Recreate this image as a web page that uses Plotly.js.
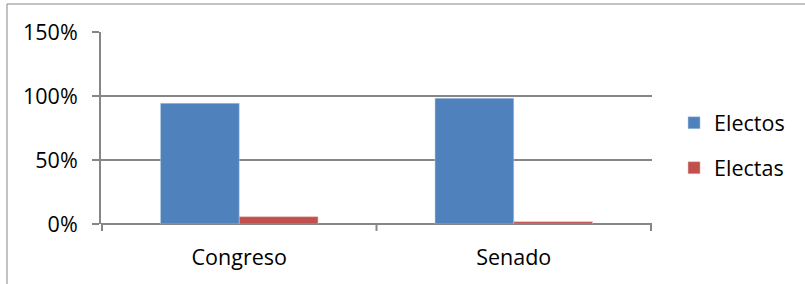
<!DOCTYPE html>
<html>
<head>
<meta charset="utf-8">
<script src="https://cdn.plot.ly/plotly-3.0.1.min.js"></script>
<style>html,body{margin:0;padding:0;background:#fff;}#chart{width:805px;height:284px;}</style>
</head>
<body>
<div id="chart"></div>
<script>
const categories = ["Congreso", "Senado"];
const electos = [0.943, 0.982];
const electas = [0.057, 0.018];
const yTicks = [0, 0.5, 1, 1.5];
const yTickLabels = ["0%", "50%", "100%", "150%"];

const FONT = "Open Sans, Liberation Sans, sans-serif";
const GRID = "#868686";
const FS = 21.5;

const traces = [
  {type: "bar", name: "Electos", x: categories, y: electos,
   marker: {color: "#4F81BD", line: {color: "#b9cde5", width: 0.5}}, legendgroup: "a"},
  {type: "bar", name: "Electas", x: categories, y: electas,
   marker: {color: "#C0504D", line: {color: "#e6b9b8", width: 0.5}}, legendgroup: "b"}
];

const layout = {
  width: 805, height: 284,
  margin: {l: 101, r: 153, t: 32, b: 60, pad: 0},
  paper_bgcolor: "#fff", plot_bgcolor: "#fff",
  font: {family: FONT, size: FS, color: "#000"},
  barmode: "group", bargap: 0.4265, bargroupgap: 0,
  showlegend: true,
  legend: {x: 1.04, y: 0.41, xanchor: "left", yanchor: "middle",
           traceorder: "grouped", tracegroupgap: 14,
           font: {family: FONT, size: FS, color: "#000"}},
  xaxis: {type: "category", showgrid: false, showline: false, zeroline: false,
          tickmode: "array", tickvals: categories, ticktext: categories,
          ticks: "", tickfont: {family: FONT, size: FS}, ticklabelstandoff: 18},
  yaxis: {range: [0, 1.5], tickmode: "array", tickvals: yTicks, ticktext: yTickLabels,
          showgrid: true, gridcolor: GRID, gridwidth: 2,
          showline: true, linecolor: GRID, linewidth: 2,
          ticks: "outside", ticklen: 7, tickcolor: GRID, tickwidth: 2,
          zeroline: true, zerolinecolor: GRID, zerolinewidth: 2,
          tickfont: {family: FONT, size: FS}, ticklabelstandoff: 10},
  shapes: [
    {type: "line", xref: "x", yref: "paper", x0: -0.5, x1: -0.5, y0: 0, y1: -0.036, line: {color: GRID, width: 2}},
    {type: "line", xref: "x", yref: "paper", x0: 0.5, x1: 0.5, y0: 0, y1: -0.036, line: {color: GRID, width: 2}},
    {type: "line", xref: "x", yref: "paper", x0: 1.5, x1: 1.5, y0: 0, y1: -0.036, line: {color: GRID, width: 2}},
    {type: "rect", xref: "paper", yref: "paper", x0: -0.1706, x1: 1.4, y0: -0.5, y1: 1.1458,
     line: {color: GRID, width: 1}, fillcolor: "rgba(0,0,0,0)", layer: "below"}
  ]
};

Plotly.newPlot("chart", traces, layout, {displayModeBar: false, staticPlot: true});
</script>
</body>
</html>
